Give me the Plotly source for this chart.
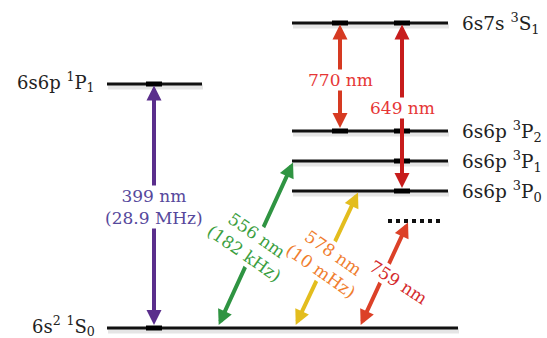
import plotly.graph_objects as go

# Energy levels (diagram units, not to scale)
level_names = ["1S0", "1P1", "3S1", "3P2", "3P1", "3P0"]
level_labels = [
    "6s<sup>2</sup> <sup>1</sup>S<sub>0</sub>",
    "6s6p <sup>1</sup>P<sub>1</sub>",
    "6s7s <sup>3</sup>S<sub>1</sub>",
    "6s6p <sup>3</sup>P<sub>2</sub>",
    "6s6p <sup>3</sup>P<sub>1</sub>",
    "6s6p <sup>3</sup>P<sub>0</sub>",
]
level_energy = [10, 254, 315, 207, 177, 147]
virtual_energy = 117  # lattice virtual level

# Transitions
transition_lower = ["1S0", "1S0", "1S0", "1S0", "3P2", "3P0"]
transition_upper = ["1P1", "3P1", "3P0", "virtual", "3S1", "3S1"]
wavelength_nm = [399, 556, 578, 759, 770, 649]
linewidth_text = ["28.9 MHz", "182 kHz", "10 mHz", None, None, None]

# ---- drawing layout ----
W, H = 547, 338
E = dict(zip(level_names, level_energy))
E["virtual"] = virtual_energy

level_span = {
    "1S0": (107, 458),
    "1P1": (107, 202),
    "3S1": (292, 448),
    "3P2": (292, 448),
    "3P1": (292, 448),
    "3P0": (292, 448),
}
label_side = {"1S0": "left", "1P1": "left", "3S1": "right",
              "3P2": "right", "3P1": "right", "3P0": "right"}

# x of arrow foot (lower) and tip (upper)
arrow_x = {
    399: (154, 154),
    556: (218, 293),
    578: (295, 358),
    759: (360, 408),
    770: (340, 340),
    649: (402, 402),
}
arrow_color = {
    399: "#5a2e8c",
    556: "#2f9442",
    578: "#e3bd1e",
    759: "#dc4128",
    770: "#d63a22",
    649: "#c71c1c",
}
text_color = {
    399: "#56489c",
    556: "#3a9e3e",
    578: "#f07d2e",
    759: "#d42a2c",
    770: "#e63636",
    649: "#e63636",
}
# label centre (x, y) and rotation
label_pos = {
    399: (154, 131, 0),
    556: (250, 94, 35),
    578: (327, 76, 35),
    759: (398, 56, 33),
    770: (340, 258, 0),
    649: (402, 230, 0),
}

FONT = "DejaVu Serif"

fig = go.Figure()

# soft shadow under each level, then the level itself
for name in level_names:
    x0, x1 = level_span[name]
    y = E[name]
    fig.add_trace(go.Scatter(x=[x0 + 1, x1 + 1], y=[y - 3, y - 3], mode="lines",
                             line=dict(color="rgba(0,0,0,0.10)", width=5),
                             hoverinfo="skip", showlegend=False))
for name in level_names:
    x0, x1 = level_span[name]
    y = E[name]
    fig.add_trace(go.Scatter(x=[x0, x1], y=[y, y], mode="lines",
                             line=dict(color="#111111", width=3),
                             hoverinfo="skip", showlegend=False))

# virtual level (dotted)
fig.add_trace(go.Scatter(x=[388, 444], y=[E["virtual"], E["virtual"]], mode="lines",
                         line=dict(color="#111111", width=4, dash="dot"),
                         hoverinfo="skip", showlegend=False))

# small markers where vertical transitions meet levels
tick_points = [(154, "1S0"), (154, "1P1"), (340, "3S1"), (340, "3P2"),
               (402, "3S1"), (402, "3P2"), (402, "3P1"), (402, "3P0")]
for x, name in tick_points:
    y = E[name]
    fig.add_trace(go.Scatter(x=[x - 8, x + 8], y=[y, y], mode="lines",
                             line=dict(color="#000000", width=5),
                             hoverinfo="skip", showlegend=False))

# transition arrows (double-headed)
for wl, lo, up in zip(wavelength_nm, transition_lower, transition_upper):
    xl, xu = arrow_x[wl]
    yl = E[lo] + 1.5
    yu = E[up] - 1.5
    fig.add_annotation(x=xu, y=yu, ax=xl, ay=yl, xref="x", yref="y",
                       axref="x", ayref="y", text="", showarrow=True,
                       arrowhead=2, startarrowhead=2, arrowside="end+start",
                       arrowsize=0.75, startarrowsize=0.75, arrowwidth=4,
                       arrowcolor=arrow_color[wl])

# transition labels
for wl, lw in zip(wavelength_nm, linewidth_text):
    x, y, ang = label_pos[wl]
    txt = f"{wl} nm" if lw is None else f"{wl} nm<br>({lw})"
    fig.add_annotation(x=x, y=y, xref="x", yref="y", text=txt, showarrow=False,
                       textangle=ang, bgcolor="white", borderpad=0,
                       font=dict(family=FONT, size=17, color=text_color[wl]))

# level labels
for name, lab in zip(level_names, level_labels):
    x0, x1 = level_span[name]
    y = E[name]
    if label_side[name] == "left":
        fig.add_annotation(x=97, y=y + 2, xref="x", yref="y", text=lab,
                           showarrow=False, xanchor="right", yanchor="middle",
                           font=dict(family=FONT, size=18, color="#222222"))
    else:
        fig.add_annotation(x=x1 + 12, y=y, xref="x", yref="y", text=lab,
                           showarrow=False, xanchor="left", yanchor="middle",
                           font=dict(family=FONT, size=18.5, color="#222222"))

fig.update_layout(
    width=W, height=H,
    margin=dict(l=0, r=0, t=0, b=0),
    paper_bgcolor="white", plot_bgcolor="white",
    xaxis=dict(range=[0, W], visible=False, fixedrange=True),
    yaxis=dict(range=[0, H], visible=False, fixedrange=True),
    showlegend=False,
)

fig.write_html("out.html")
